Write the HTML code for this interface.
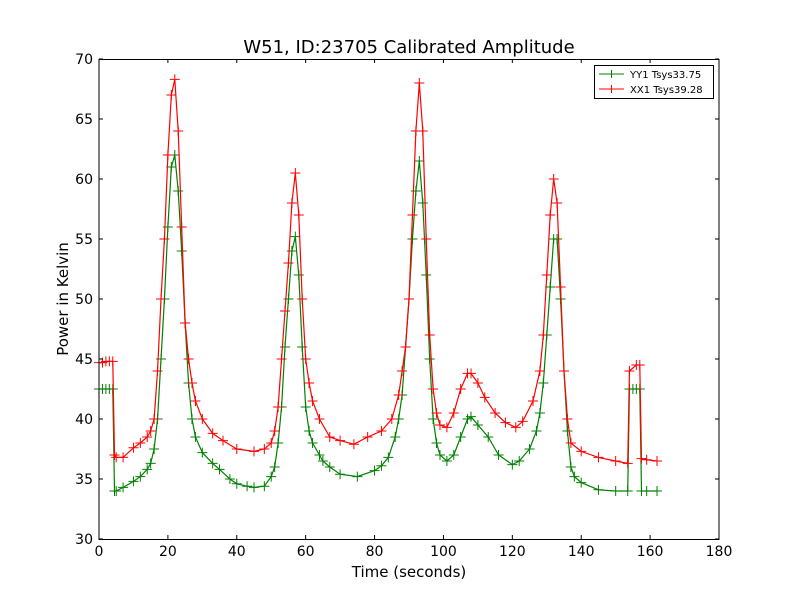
<!DOCTYPE html>
<html><head><meta charset="utf-8"><style>
body{margin:0;background:#fff}
svg text{font-family:"DejaVu Sans","Liberation Sans",sans-serif}
</style></head><body>
<svg id="chart" width="800" height="600" xmlns="http://www.w3.org/2000/svg">
<rect width="800" height="600" fill="#fff"/>
<text x="409" y="53" font-size="18" text-anchor="middle">W51, ID:23705 Calibrated Amplitude</text>
<g id="series"></g>
<rect x="99" y="59.5" width="620" height="480" fill="none" stroke="#000" stroke-width="1"/>
<g id="axes"></g>
<text x="409" y="577" font-size="15" text-anchor="middle">Time (seconds)</text>
<text transform="translate(68,299) rotate(-90)" font-size="15" text-anchor="middle">Power in Kelvin</text>
<g>
<rect x="594.5" y="65.5" width="119" height="33" fill="#fff" stroke="#000"/>
<line x1="599" y1="74" x2="624" y2="74" stroke="green"/><line x1="611.5" y1="70" x2="611.5" y2="78" stroke="green"/>
<text x="630" y="78" font-size="10">YY1 Tsys33.75</text>
<line x1="599" y1="89" x2="624" y2="89" stroke="red"/><line x1="611.5" y1="85" x2="611.5" y2="93" stroke="red"/>
<text x="630" y="93" font-size="10">XX1 Tsys39.28</text>
</g>
</svg>
<script>
const xTicks=[0,20,40,60,80,100,120,140,160,180];
const yTicks=[30,35,40,45,50,55,60,65,70];
const yyTimes=[0,1,2,3,4,4.5,5,7,10,12,14,15,16,17,18,19,20,21,22,23,24,25,26,27,28,30,33,35,38,40,43,45,48,50,51,52,53,54,55,56,57,58,59,60,61,62,64,65,67,70,75,80,82,84,86,87,88,89,90,91,92,93,94,95,96,97,98,99,101,103,105,107,108,110,113,116,120,122,125,127,128,129,130,131,132,133,134,135,136,137,138,140,145,150,153.5,154,155,156,157,157.5,159,162];
const yyVals=[42.5,42.5,42.5,42.5,42.5,34,34,34.3,34.8,35.2,35.8,36.3,37.5,40,45,50,56,61,62,59,54,48,43,40,38.5,37.2,36.3,35.8,35,34.6,34.4,34.3,34.4,35.2,36,38,41,46,50,54,55.2,52,46,41,39,38,37,36.5,36,35.4,35.2,35.7,36.1,36.8,38.5,40,42,46,50,55,59,61.5,58,52,45,40,38,37,36.5,37,38.5,40,40.2,39.5,38.5,37,36.2,36.5,37.5,39,40.5,43,47,51,55,55,50,44,39,36,35.2,34.7,34.1,34,34,42.5,42.5,42.5,42.5,34,34,34];
const xxTimes=[0,1,2,3,4,4.5,5,7,10,12,14,15,16,17,18,19,20,21,22,23,24,25,26,27,28,30,33,36,40,45,48,50,51,52,53,54,55,56,57,58,59,60,61,62,64,67,70,74,78,82,85,87,88,89,90,91,92,93,94,95,96,97,98,99,101,103,105,107,108,110,112,115,118,121,123,126,128,129,130,131,132,133,134,135,136,137,140,145,150,153.5,154,156,157,157.5,159,162];
const xxVals=[44.7,44.7,44.8,44.8,44.8,37,36.8,36.8,37.6,38,38.5,39,40,44,50,55,62,67,68.3,64,56,48,45,43,41.5,40,38.8,38.2,37.5,37.3,37.5,38,39,41,45,49,53,58,60.5,57,50,45,43,41.5,40,38.5,38.2,37.9,38.5,39,40,42,44,46,50,57,64,68,64,55,47,42.5,40.5,39.5,39.3,40.5,42.5,43.8,43.8,43,41.8,40.5,39.7,39.3,39.8,41.5,44,47,52,57,60,58,51,44,40,38,37.3,36.8,36.5,36.3,44,44.5,44.5,36.7,36.6,36.5];
const X=t=>99+t*620/180, Y=v=>539-(v-30)*12;
const NS="http://www.w3.org/2000/svg";
const axes=document.getElementById('axes'), ser=document.getElementById('series');
function mk(tag,attrs,parent){const e=document.createElementNS(NS,tag);for(const k in attrs)e.setAttribute(k,attrs[k]);parent.appendChild(e);return e;}
xTicks.forEach(t=>{const x=X(t);
 const g=mk('g',{},axes);
 
 
 mk('line',{x1:x,y1:539,x2:x,y2:535,stroke:'#000'},g);mk('line',{x1:x,y1:59,x2:x,y2:63,stroke:'#000'},g);
 const tx=mk('text',{x:x,y:556,'font-size':14,'text-anchor':'middle'},g);tx.textContent=t;});
yTicks.forEach(v=>{const y=Y(v);
 const g=mk('g',{},axes);
 
 
 mk('line',{x1:99,y1:y,x2:103,y2:y,stroke:'#000'},g);mk('line',{x1:719,y1:y,x2:715,y2:y,stroke:'#000'},g);
 const tx=mk('text',{x:93,y:y+5,'font-size':14,'text-anchor':'end'},g);tx.textContent=v;});
function draw(ts,vs,col,name){
 const g=mk('g',{},ser);
 
 
 mk('polyline',{points:ts.map((t,i)=>X(t)+','+Y(vs[i])).join(' '),fill:'none',stroke:col,'stroke-width':1.2},g);
 let d='';ts.forEach((t,i)=>{const x=X(t),y=Y(vs[i]);d+=`M${x-5},${y}h10M${x},${y-5}v10`;});
 mk('path',{d:d,stroke:col,'stroke-width':1,fill:'none'},g);
}
draw(yyTimes,yyVals,'green','series-yy1');
draw(xxTimes,xxVals,'red','series-xx1');
</script>
</body></html>
